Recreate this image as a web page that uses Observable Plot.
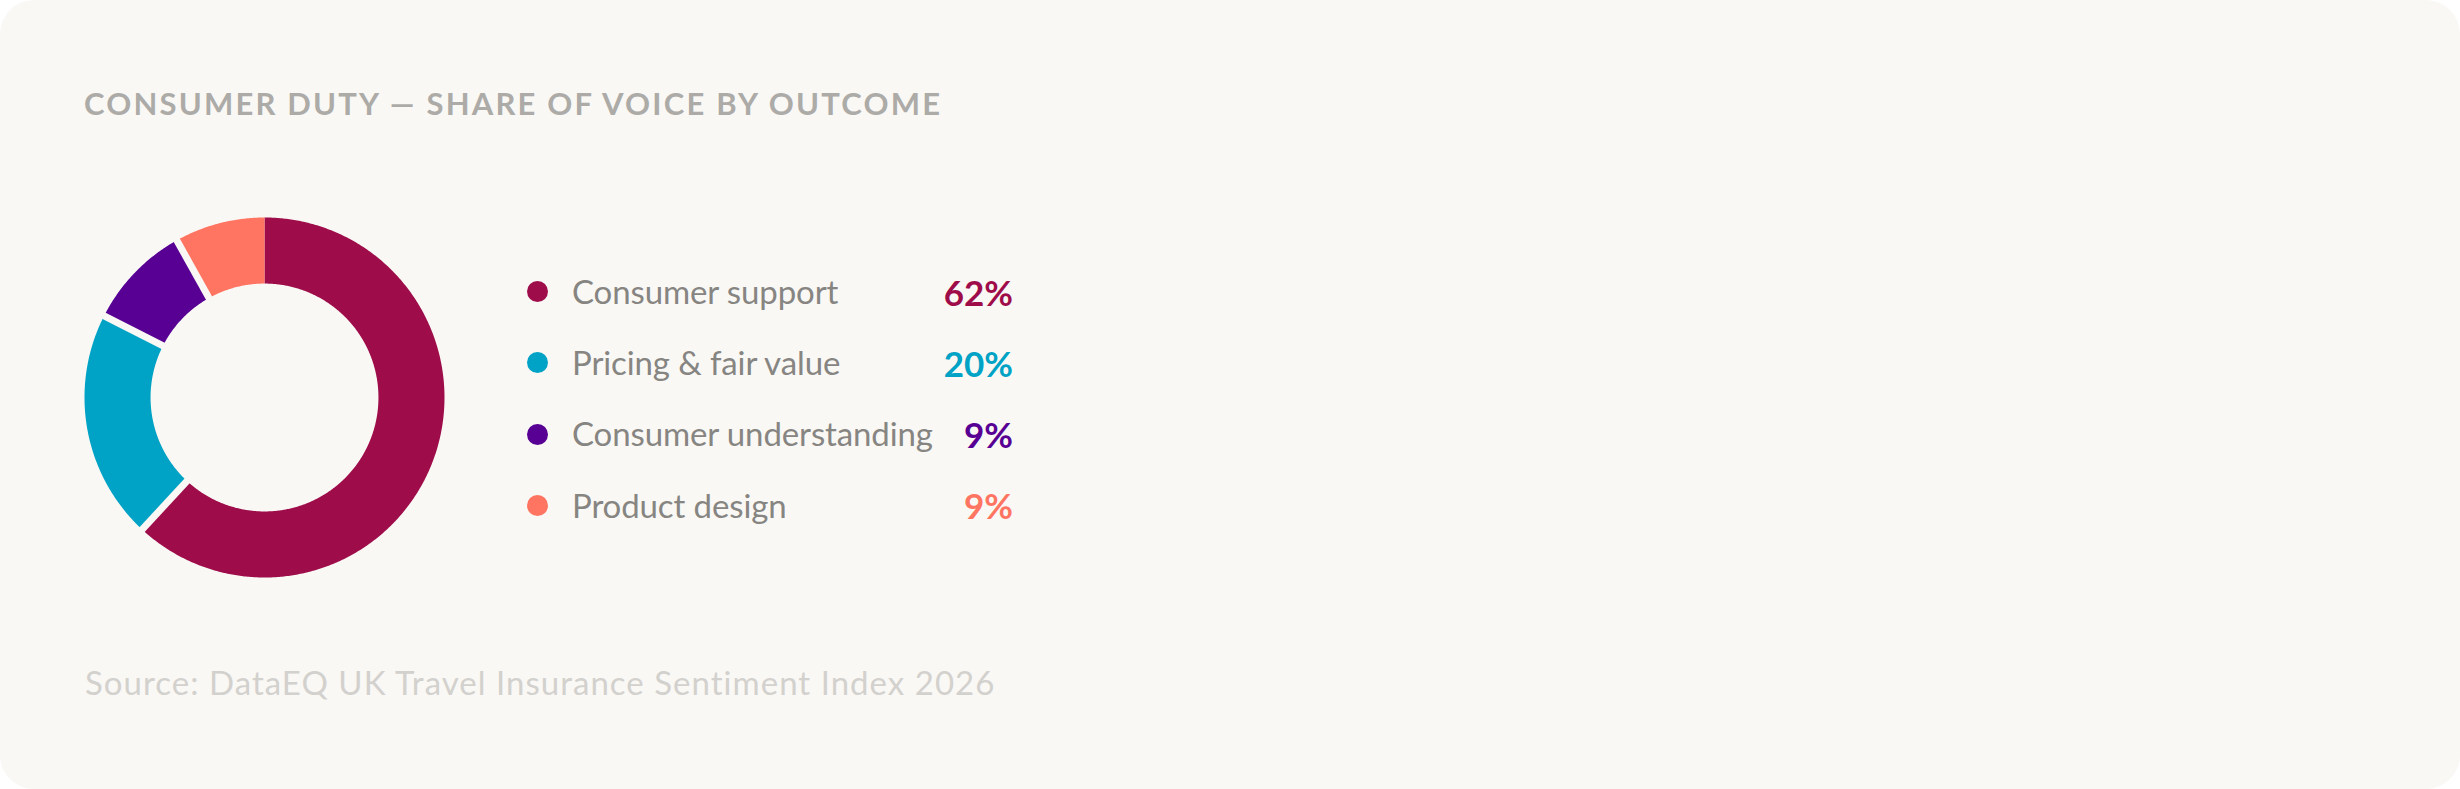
<!DOCTYPE html>
<html>
<head>
<meta charset="utf-8">
<script src="https://cdn.jsdelivr.net/npm/d3@7"></script>
<script src="https://cdn.jsdelivr.net/npm/@observablehq/plot@0.6"></script>
<style>
  html, body { margin: 0; padding: 0; background: #ffffff; }
  .card { position: relative; width: 2460px; height: 789px; background: #f9f8f5; border-radius: 34px; overflow: hidden; font-family: Lato, "Noto Sans", sans-serif; }
  .title { position: absolute; left: 84px; top: 88px; font-size: 31px; line-height: 1; font-weight: 700; color: #adaba7; white-space: nowrap; }
  .source { position: absolute; left: 85px; top: 666px; font-size: 33px; line-height: 1; font-weight: 400; color: #d3d1cd; white-space: nowrap; }
  .chart { position: absolute; left: 75px; top: 208px; }
  .legend-row { position: absolute; left: 527px; width: 486px; height: 0; display: flex; align-items: center; }
  .legend-row .dot { width: 21px; height: 21px; border-radius: 50%; flex: none; }
  .legend-row .label { margin-left: 24px; font-size: 33px; line-height: 1.2; color: #878582; white-space: nowrap; }
  .legend-row .pct { margin-left: auto; font-size: 35px; line-height: 1.2; font-weight: 700; white-space: nowrap; }
</style>
</head>
<body>
<div class="card" id="card">
  <div class="title" id="title">CONSUMER DUTY — SHARE OF VOICE BY OUTCOME</div>
  <div class="chart" id="chart"></div>
  <div class="source" id="source">Source: DataEQ UK Travel Insurance Sentiment Index 2026</div>
</div>
<script>
// ---- data ----
const outcomes = ["Consumer support", "Pricing & fair value", "Consumer understanding", "Product design"];
const shares = [61.9, 20.6, 9.4, 8.1];          // arc shares as read from the ring
const percentLabels = ["62%", "20%", "9%", "9%"]; // printed legend values
const colors = ["#9e0d4a", "#00a3c5", "#570093", "#ff7562"];

// ---- geometry derived from the data ----
const INNER = 0.633;
const total = d3.sum(shares);
const ends = Array.from(d3.cumsum(shares));
const slices = outcomes.map((key, i) => ({
  key,
  a0: (ends[i] - shares[i]) / total * 2 * Math.PI,
  a1: ends[i] / total * 2 * Math.PI
}));

const points = [];
for (const s of slices) {
  const n = Math.max(2, Math.ceil((s.a1 - s.a0) / (Math.PI / 360)));
  for (let j = 0; j <= n; j++) {
    const t = s.a0 + (s.a1 - s.a0) * j / n;
    points.push({key: s.key, x: Math.sin(t), y: Math.cos(t)});
  }
  for (let j = n; j >= 0; j--) {
    const t = s.a0 + (s.a1 - s.a0) * j / n;
    points.push({key: s.key, x: INNER * Math.sin(t), y: INNER * Math.cos(t)});
  }
}

// separators between consecutive slices (not at 12 o'clock)
const seps = slices.slice(0, -1).map(s => ({
  x1: (INNER - 0.05) * Math.sin(s.a1), y1: (INNER - 0.05) * Math.cos(s.a1),
  x2: 1.04 * Math.sin(s.a1), y2: 1.04 * Math.cos(s.a1)
}));

const size = 378;
const dom = [-1.05, 1.05];
const chart = Plot.plot({
  width: size,
  height: size,
  margin: 0,
  style: {background: "transparent", overflow: "visible"},
  x: {domain: dom, axis: null},
  y: {domain: dom, axis: null},
  color: {domain: outcomes, range: colors},
  marks: [
    Plot.line(points, {x: "x", y: "y", z: "key", fill: "key", stroke: "none", curve: "linear"}),
    Plot.link(seps, {x1: "x1", y1: "y1", x2: "x2", y2: "y2", stroke: "#f9f8f5", strokeWidth: 7})
  ]
});
document.getElementById("chart").appendChild(chart);

// ---- legend ----
const card = document.getElementById("card");
const rowTop = 291.5, rowGap = 71.3;
const labelEls = [];
outcomes.forEach((k, i) => {
  const row = document.createElement("div");
  row.className = "legend-row";
  row.style.top = (rowTop + i * rowGap) + "px";
  const dot = document.createElement("span");
  dot.className = "dot";
  dot.style.background = colors[i];
  const label = document.createElement("span");
  label.className = "label";
  label.textContent = k;
  const pct = document.createElement("span");
  pct.className = "pct";
  pct.style.color = colors[i];
  pct.textContent = percentLabels[i];
  row.append(dot, label, pct);
  card.appendChild(row);
  labelEls.push(label);
});

// fit letter-spacing to the reference widths
function spacingFor(el, target) {
  el.style.letterSpacing = "0px";
  const w = el.getBoundingClientRect().width;
  const n = el.textContent.length;
  return (target - w) / (n - 1);
}
const t = document.getElementById("title");
t.style.letterSpacing = spacingFor(t, 856) + "px";
const src = document.getElementById("source");
src.style.letterSpacing = spacingFor(src, 910) + "px";
const ls = spacingFor(labelEls[2], 361);
labelEls.forEach(l => l.style.letterSpacing = ls + "px");
</script>
</body>
</html>
